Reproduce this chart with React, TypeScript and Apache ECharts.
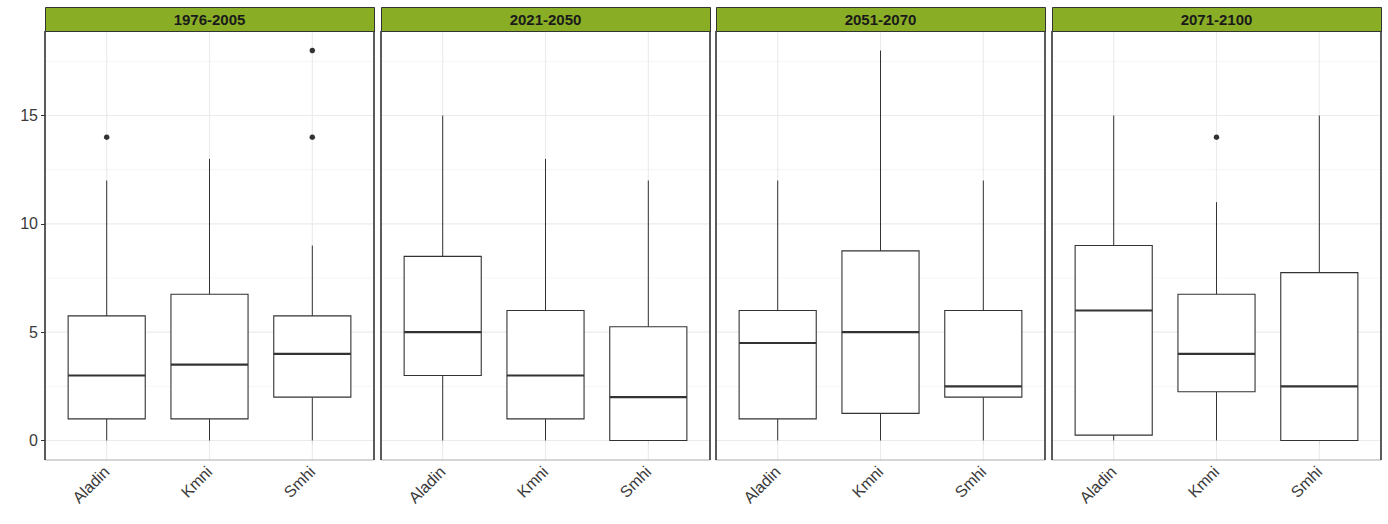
import React, { useEffect, useRef } from "react";
import * as echarts from "echarts";

const categories = ["Aladin", "Kmni", "Smhi"];
const periods = ["1976-2005", "2021-2050", "2051-2070", "2071-2100"];

// [lower whisker, q1, median, q3, upper whisker] per category
const box1976 = [[0, 1, 3, 5.75, 12], [0, 1, 3.5, 6.75, 13], [0, 2, 4, 5.75, 9]];
const box2021 = [[0, 3, 5, 8.5, 15], [0, 1, 3, 6, 13], [0, 0, 2, 5.25, 12]];
const box2051 = [[0, 1, 4.5, 6, 12], [0, 1.25, 5, 8.75, 18], [0, 2, 2.5, 6, 12]];
const box2071 = [[0, 0.25, 6, 9, 15], [0, 2.25, 4, 6.75, 11], [0, 0, 2.5, 7.75, 15]];

// outliers: [category index (1-based), value]
const out1976 = [[1, 14], [3, 14], [3, 18]];
const out2021: number[][] = [];
const out2051: number[][] = [];
const out2071 = [[2, 14]];

const yTicks = [0, 5, 10, 15];
const yMinor = [2.5, 7.5, 12.5, 17.5];
const xTicks = [1, 2, 3];

const boxes = [box1976, box2021, box2051, box2071];
const outliers = [out1976, out2021, out2051, out2071];

const FONT = "'Liberation Sans', Arial, sans-serif";
const panelLefts = [45, 381, 716, 1052];
const panelWidth = 329;
const panelTop = 31;
const panelHeight = 429;

export default function App() {
  const ref = useRef<HTMLDivElement>(null);
  useEffect(() => {
    if (!ref.current) return;
    const chart = echarts.init(ref.current, null, { renderer: "svg" });
    const grid: any[] = [];
    const xAxis: any[] = [];
    const yAxis: any[] = [];
    const series: any[] = [];
    const graphic: any[] = [];

    periods.forEach((p, i) => {
      grid.push({ left: panelLefts[i], top: panelTop, width: panelWidth, height: panelHeight, show: false });
      xAxis.push({
        type: "value", gridIndex: i, min: 0.4, max: 3.6,
        axisLine: { show: false },
        splitLine: { show: false },
        axisTick: { show: true, customValues: xTicks, length: 4, lineStyle: { color: "#9a9a9a" } },
        axisLabel: {
          customValues: xTicks, rotate: 45, margin: 9, color: "#3a3a3a", fontSize: 16, fontFamily: FONT,
          formatter: (v: number) => categories[Math.round(v) - 1] ?? "",
        },
      });
      yAxis.push({
        type: "value", gridIndex: i, min: -0.9, max: 18.9,
        axisLine: { show: false },
        splitLine: { show: false },
        axisTick: { show: i === 0, customValues: yTicks, length: 4, lineStyle: { color: "#333" } },
        axisLabel: { show: i === 0, customValues: yTicks, margin: 7, color: "#3a3a3a", fontSize: 16, fontFamily: FONT },
      });
      // minor horizontal gridlines
      series.push({
        type: "custom", xAxisIndex: i, yAxisIndex: i, silent: true, z: 1,
        data: yMinor.map((v) => [2, v]),
        encode: { x: 0, y: 1 },
        renderItem: (params: any, api: any) => {
          const cs = params.coordSys;
          const y = api.coord([2, api.value(1)])[1];
          return { type: "line", shape: { x1: cs.x, y1: y, x2: cs.x + cs.width, y2: y }, style: { stroke: "#f2f2f2", lineWidth: 0.8 } };
        },
      });
      // major horizontal gridlines
      series.push({
        type: "custom", xAxisIndex: i, yAxisIndex: i, silent: true, z: 1,
        data: yTicks.map((v) => [2, v]),
        encode: { x: 0, y: 1 },
        renderItem: (params: any, api: any) => {
          const cs = params.coordSys;
          const y = api.coord([2, api.value(1)])[1];
          return { type: "line", shape: { x1: cs.x, y1: y, x2: cs.x + cs.width, y2: y }, style: { stroke: "#ebebeb", lineWidth: 1.2 } };
        },
      });
      // vertical gridlines
      series.push({
        type: "custom", xAxisIndex: i, yAxisIndex: i, silent: true, z: 1,
        data: xTicks.map((v) => [v, 5]),
        encode: { x: 0, y: 1 },
        renderItem: (params: any, api: any) => {
          const cs = params.coordSys;
          const x = api.coord([api.value(0), 5])[0];
          return { type: "line", shape: { x1: x, y1: cs.y, x2: x, y2: cs.y + cs.height }, style: { stroke: "#ebebeb", lineWidth: 1.1 } };
        },
      });
      // boxes
      series.push({
        type: "custom", xAxisIndex: i, yAxisIndex: i, silent: true, z: 3,
        data: boxes[i].map((b, k) => [k + 1, ...b]),
        encode: { x: 0, y: [1, 2, 3, 4, 5] },
        renderItem: (params: any, api: any) => {
          const x = api.value(0);
          const lo = api.coord([x, api.value(1)]);
          const q1 = api.coord([x, api.value(2)]);
          const md = api.coord([x, api.value(3)]);
          const q3 = api.coord([x, api.value(4)]);
          const hi = api.coord([x, api.value(5)]);
          const hw = api.size([0.75, 0])[0] / 2;
          const cx = lo[0];
          return {
            type: "group",
            children: [
              { type: "line", shape: { x1: cx, y1: q3[1], x2: cx, y2: hi[1] }, style: { stroke: "#333", lineWidth: 1 } },
              { type: "line", shape: { x1: cx, y1: q1[1], x2: cx, y2: lo[1] }, style: { stroke: "#333", lineWidth: 1 } },
              { type: "rect", shape: { x: cx - hw, y: q3[1], width: hw * 2, height: q1[1] - q3[1] }, style: { fill: "#fff", stroke: "#333", lineWidth: 1.1 } },
              { type: "line", shape: { x1: cx - hw, y1: md[1], x2: cx + hw, y2: md[1] }, style: { stroke: "#333", lineWidth: 2.2 } },
            ],
          };
        },
      });
      // outliers
      series.push({
        type: "scatter", xAxisIndex: i, yAxisIndex: i, silent: true, z: 4,
        data: outliers[i], symbolSize: 5.5, itemStyle: { color: "#333", opacity: 1 },
      });
      // frame
      series.push({
        type: "custom", xAxisIndex: i, yAxisIndex: i, silent: true, z: 5,
        data: [[2, 5]],
        encode: { x: 0, y: 1 },
        renderItem: (params: any) => {
          const cs = params.coordSys;
          return {
            type: "group",
            children: [
              { type: "line", shape: { x1: cs.x, y1: cs.y + cs.height, x2: cs.x + cs.width, y2: cs.y + cs.height }, style: { stroke: "#ababab", lineWidth: 1.2 } },
              { type: "line", shape: { x1: cs.x, y1: cs.y, x2: cs.x, y2: cs.y + cs.height }, style: { stroke: "#333", lineWidth: 1.6 } },
              { type: "line", shape: { x1: cs.x + cs.width, y1: cs.y, x2: cs.x + cs.width, y2: cs.y + cs.height }, style: { stroke: "#333", lineWidth: 1.6 } },
            ],
          };
        },
      });
      // strip header
      graphic.push({
        type: "rect", left: panelLefts[i], top: 7,
        shape: { width: panelWidth, height: 24 },
        style: { fill: "#89ad25", stroke: "#333", lineWidth: 1 }, z: 10,
      });
      graphic.push({
        type: "text", x: panelLefts[i] + panelWidth / 2, y: 19,
        style: { text: p, fill: "#1a1a1a", font: `bold 15px ${FONT}`, textAlign: "center", textVerticalAlign: "middle" }, z: 11,
      });
    });

    chart.setOption({
      animation: false,
      backgroundColor: "#fff",
      grid, xAxis, yAxis, series, graphic,
    });
    return () => chart.dispose();
  }, []);
  return <div ref={ref} style={{ position: "absolute", left: 0, top: 0, width: 1388, height: 524 }} />;
}
